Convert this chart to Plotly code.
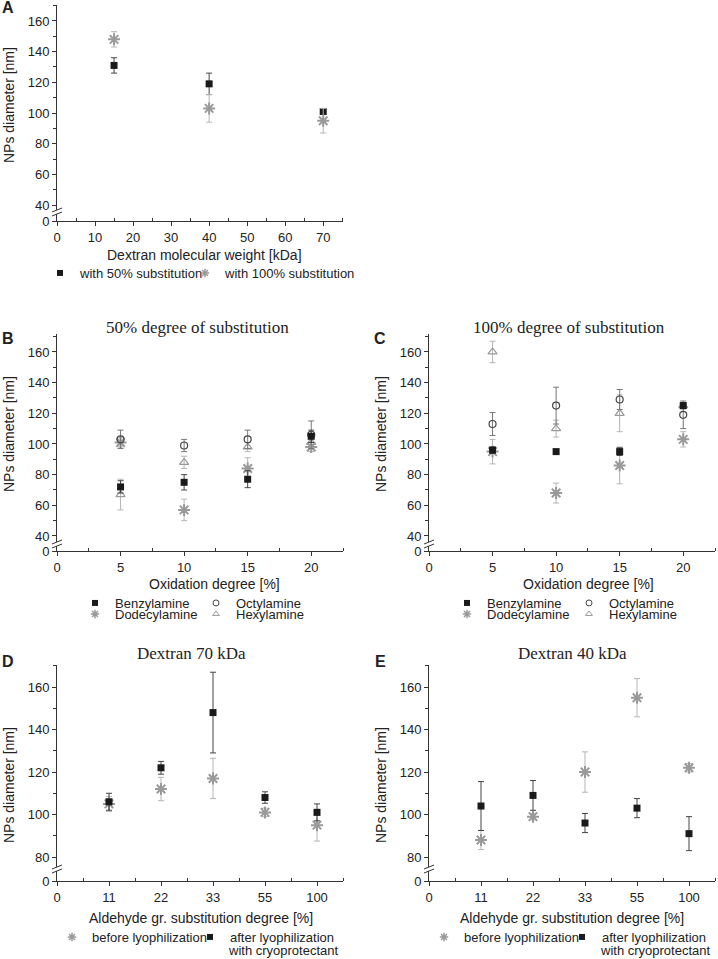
import plotly.graph_objects as go

# ---- data ----
# A: NP size vs dextran molecular weight
mol_weight = [15, 40, 70]
a_sub50 = [131, 119, 101]
a_sub50_err = [5, 7, 1.5]
a_sub100 = [148, 103, 95]
a_sub100_err = [5, 9, 8]

# B, C: NP size vs oxidation degree
oxidation = [5, 10, 15, 20]
b_benzyl = [72, 75, 77, 105]
b_benzyl_err = [4, 5, 5.5, 4]
b_octyl = [103, 99, 103, 106]
b_octyl_err = [6, 4, 6, 9]
b_dodecyl = [101, 57, 84, 98]
b_dodecyl_err = [3, 7, 7, 3]
b_hexyl = [67, 88, 98, 101]
b_hexyl_err = [10, 4, 3, 4]

c_benzyl = [96, 95, 95, 125]
c_benzyl_err = [2, 1.5, 2.5, 2]
c_octyl = [113, 125, 129, 119]
c_octyl_err = [7.5, 12, 6.5, 9]
c_dodecyl = [95, 68, 86, 103]
c_dodecyl_err = [8, 6.5, 12, 5]
c_hexyl = [160, 110, 120, 125]
c_hexyl_err = [7, 5.5, 12, 2]

# D, E: before / after lyophilization
subst_ticks = ["0", "11", "22", "33", "55", "100"]
subst = ["11", "22", "33", "55", "100"]
d_before = [105, 112, 117, 101, 95]
d_before_err = [3.5, 5.5, 9.5, 2, 7.5]
d_after = [106, 122, 148, 108, 101]
d_after_err = [4, 3, 19, 2.7, 4]
e_before = [88, 99, 120, 155, 122]
e_before_err = [4.5, 1.5, 9.5, 9, 2]
e_after = [104, 109, 96, 103, 91]
e_after_err = [11.5, 7, 4.5, 4.5, 8]

W, H = 718, 959
SANS = "Liberation Sans, Arial, sans-serif"
SERIF = "Liberation Serif, Times New Roman, serif"
BLACK = "#1a1a1a"
GRAY = "#9a9a9a"


def fx(px):
    return px / W


def fy(py):
    return 1 - py / H


fig = go.Figure()


def add_pts(x, y, err, symbol, color, size, lw, ecolor, xa, ya):
    fig.add_trace(go.Scatter(
        x=x, y=y, mode="markers", showlegend=False, xaxis=xa, yaxis=ya,
        marker=dict(symbol=symbol, color=color, size=size, line=dict(color=color, width=lw)),
        error_y=dict(type="data", array=err, color=ecolor, thickness=1, width=3)))


def add_key(name, symbol, color, size, lw, legend, width=None):
    fig.add_trace(go.Scatter(
        x=[None], y=[None], mode="markers", name=name, legend=legend, legendwidth=width,
        marker=dict(symbol=symbol, color=color, size=size, line=dict(color=color, width=lw))))


def square(x, y, err, xa, ya):
    add_pts(x, y, err, "square", BLACK, 7, 0, "#444", xa, ya)


def star(x, y, err, xa, ya):
    add_pts(x, y, err, "asterisk-open", GRAY, 10, 2, "#b5b5b5", xa, ya)


def circle(x, y, err, xa, ya):
    add_pts(x, y, err, "circle-open", "#444", 7, 1.2, "#777", xa, ya)


def triangle(x, y, err, xa, ya):
    add_pts(x, y, err, "triangle-up-open", GRAY, 8, 1.2, "#b5b5b5", xa, ya)


# A
square(mol_weight, a_sub50, a_sub50_err, "x", "y")
star(mol_weight, a_sub100, a_sub100_err, "x", "y")

# B
star(oxidation, b_dodecyl, b_dodecyl_err, "x2", "y2")
triangle(oxidation, b_hexyl, b_hexyl_err, "x2", "y2")
circle(oxidation, b_octyl, b_octyl_err, "x2", "y2")
square(oxidation, b_benzyl, b_benzyl_err, "x2", "y2")

# C
triangle(oxidation, c_hexyl, c_hexyl_err, "x3", "y3")
star(oxidation, c_dodecyl, c_dodecyl_err, "x3", "y3")
circle(oxidation, c_octyl, c_octyl_err, "x3", "y3")
square(oxidation, c_benzyl, c_benzyl_err, "x3", "y3")

# D, E (categories placed at their slot on the axis)
subst_x = [subst_ticks.index(s) for s in subst]
star(subst_x, d_before, d_before_err, "x4", "y4")
square(subst_x, d_after, d_after_err, "x4", "y4")
star(subst_x, e_before, e_before_err, "x5", "y5")
square(subst_x, e_after, e_after_err, "x5", "y5")

# legend keys
add_key("with 50% substitution", "square", BLACK, 6, 0, "legend", 100)
add_key("with 100% substitution", "asterisk-open", GRAY, 7, 1.5, "legend")
for row1, row2, w in [("legend2", "legend3", 76), ("legend4", "legend5", 77)]:
    add_key("Benzylamine", "square", BLACK, 6, 0, row1, w)
    add_key("Octylamine", "circle-open", "#444", 6, 1, row1)
    add_key("Dodecylamine", "asterisk-open", GRAY, 7, 1.5, row2, w)
    add_key("Hexylamine", "triangle-up-open", GRAY, 6, 1, row2)
for lg in ["legend6", "legend7"]:
    add_key("before lyophilization", "asterisk-open", GRAY, 7, 1.5, lg, 93)
    add_key("after lyophilization", "square", BLACK, 6, 0, lg)

tickfont = dict(family=SANS, size=13, color="#222")


def x_axis(left, right, rng, tickvals, ticktext, minor_vals, anchor):
    return dict(domain=[fx(left), fx(right)], range=rng, anchor=anchor,
                showline=True, linecolor="#333", linewidth=1, showgrid=False, zeroline=False,
                tickmode="array", tickvals=tickvals, ticktext=ticktext,
                ticks="outside", ticklen=4, tickcolor="#333", tickfont=tickfont,
                minor=dict(tickmode="array", tickvals=minor_vals, ticks="inside",
                           ticklen=3, tickcolor="#333"))


def y_axis(top, bot, rng, first, anchor):
    major = list(range(first, 161, 20))
    minor_vals = list(range(first + 10, 171, 20))
    return dict(domain=[fy(bot), fy(top)], range=rng, anchor=anchor,
                showline=True, linecolor="#333", linewidth=1, showgrid=False, zeroline=False,
                tickmode="array", tickvals=[rng[0]] + major, ticktext=["0"] + [str(v) for v in major],
                ticks="outside", ticklen=4, tickcolor="#333", tickfont=tickfont,
                minor=dict(tickmode="array", tickvals=minor_vals, ticks="outside",
                           ticklen=3, tickcolor="#333"))


ox_ticks = [0, 5, 10, 15, 20]
ox_minor = [2.5, 7.5, 12.5, 17.5, 22.5]
mw_ticks = list(range(0, 71, 10))
mw_minor = list(range(5, 76, 10))
sub_pos = list(range(len(subst_ticks)))
sub_minor = [p + 0.5 for p in sub_pos]

layout = dict(
    xaxis=x_axis(57, 343, [0, 75.2], mw_ticks, [str(v) for v in mw_ticks], mw_minor, "y"),
    yaxis=y_axis(5, 221, [29.6, 170.4], 40, "x"),
    xaxis2=x_axis(57, 343, [0, 22.5], ox_ticks, [str(v) for v in ox_ticks], ox_minor, "y2"),
    yaxis2=y_axis(334, 551, [30.2, 171.7], 40, "x2"),
    xaxis3=x_axis(429, 715, [0, 22.5], ox_ticks, [str(v) for v in ox_ticks], ox_minor, "y3"),
    yaxis3=y_axis(334, 551, [30.2, 171.7], 40, "x3"),
    xaxis4=x_axis(57, 343, [0, 5.5], sub_pos, subst_ticks, sub_minor, "y4"),
    yaxis4=y_axis(665, 881, [68.7, 170.4], 80, "x4"),
    xaxis5=x_axis(429, 715, [0, 5.5], sub_pos, subst_ticks, sub_minor, "y5"),
    yaxis5=y_axis(665, 881, [68.7, 170.4], 80, "x5"),
)


def legend_at(left, center):
    return dict(x=fx(left), y=fy(center - 15), xanchor="left", yanchor="top",
                orientation="h", bgcolor="rgba(0,0,0,0)", borderwidth=0,
                font=dict(family=SANS, size=13, color="#222"),
                itemwidth=30, tracegroupgap=0)


layout["legend"] = legend_at(40, 273)
layout["legend2"] = legend_at(75, 603)
layout["legend3"] = legend_at(75, 614)
layout["legend4"] = legend_at(447, 603)
layout["legend5"] = legend_at(447, 614)
layout["legend6"] = legend_at(52, 937)
layout["legend7"] = legend_at(424, 937)

fig.update_layout(**layout)
# fixed margins: legends must not push the plot area around
fig.update_layout(width=W, height=H, margin=dict(l=0, r=0, t=0, b=0, autoexpand=False),
                  paper_bgcolor="white", plot_bgcolor="white",
                  font=dict(family=SANS, color="#222"))


def note(text, x, y, size=14, family=SANS, angle=0, anchor="center"):
    fig.add_annotation(text=text, x=fx(x), y=fy(y), xref="paper", yref="paper",
                       showarrow=False, textangle=angle, xanchor=anchor, yanchor="middle",
                       font=dict(family=family, size=size, color="#222"))


# panel letters
for letter, x, y in [("A", 8, 8), ("B", 8, 338), ("C", 380, 338), ("D", 8, 661), ("E", 380, 661)]:
    note("<b>" + letter + "</b>", x, y, size=16)

# panel titles
note("50% degree of substitution", 197, 327, size=17, family=SERIF)
note("100% degree of substitution", 569, 327, size=17, family=SERIF)
note("Dextran 70 kDa", 191, 653, size=17, family=SERIF)
note("Dextran 40 kDa", 572, 653, size=17, family=SERIF)

# axis titles
note("Dextran molecular weight [kDa]", 204, 255)
note("Oxidation degree [%]", 215, 584)
note("Oxidation degree [%]", 588, 584)
note("Aldehyde gr. substitution degree [%]", 201, 918)
note("Aldehyde gr. substitution degree [%]", 572, 918)
for x, y in [(9, 105), (9, 434), (381, 434), (9, 785), (381, 785)]:
    note("NPs diameter [nm]", x, y, angle=-90)

# second line of the "after lyophilization" legend entry
note("with cryoprotectant", 226, 950, size=13, anchor="left")
note("with cryoprotectant", 598, 950, size=13, anchor="left")


# axis breaks (//) on the y axes
def axis_break(ax, yb):
    fig.add_shape(type="rect", xref="paper", yref="paper",
                  x0=fx(ax - 2), x1=fx(ax + 2), y0=fy(yb + 2), y1=fy(yb - 2),
                  fillcolor="white", line=dict(width=0), layer="above")
    for dy in [-2, 2]:
        fig.add_shape(type="line", xref="paper", yref="paper",
                      x0=fx(ax - 5), y0=fy(yb + dy + 2), x1=fx(ax + 5), y1=fy(yb + dy - 2),
                      line=dict(color="#333", width=1), layer="above")


for ax, yb in [(57, 212), (57, 544), (429, 544), (57, 869), (429, 869)]:
    axis_break(ax, yb)

fig.write_html("out.html", config={"displayModeBar": False},
               post_script="document.body.style.margin='0';")
